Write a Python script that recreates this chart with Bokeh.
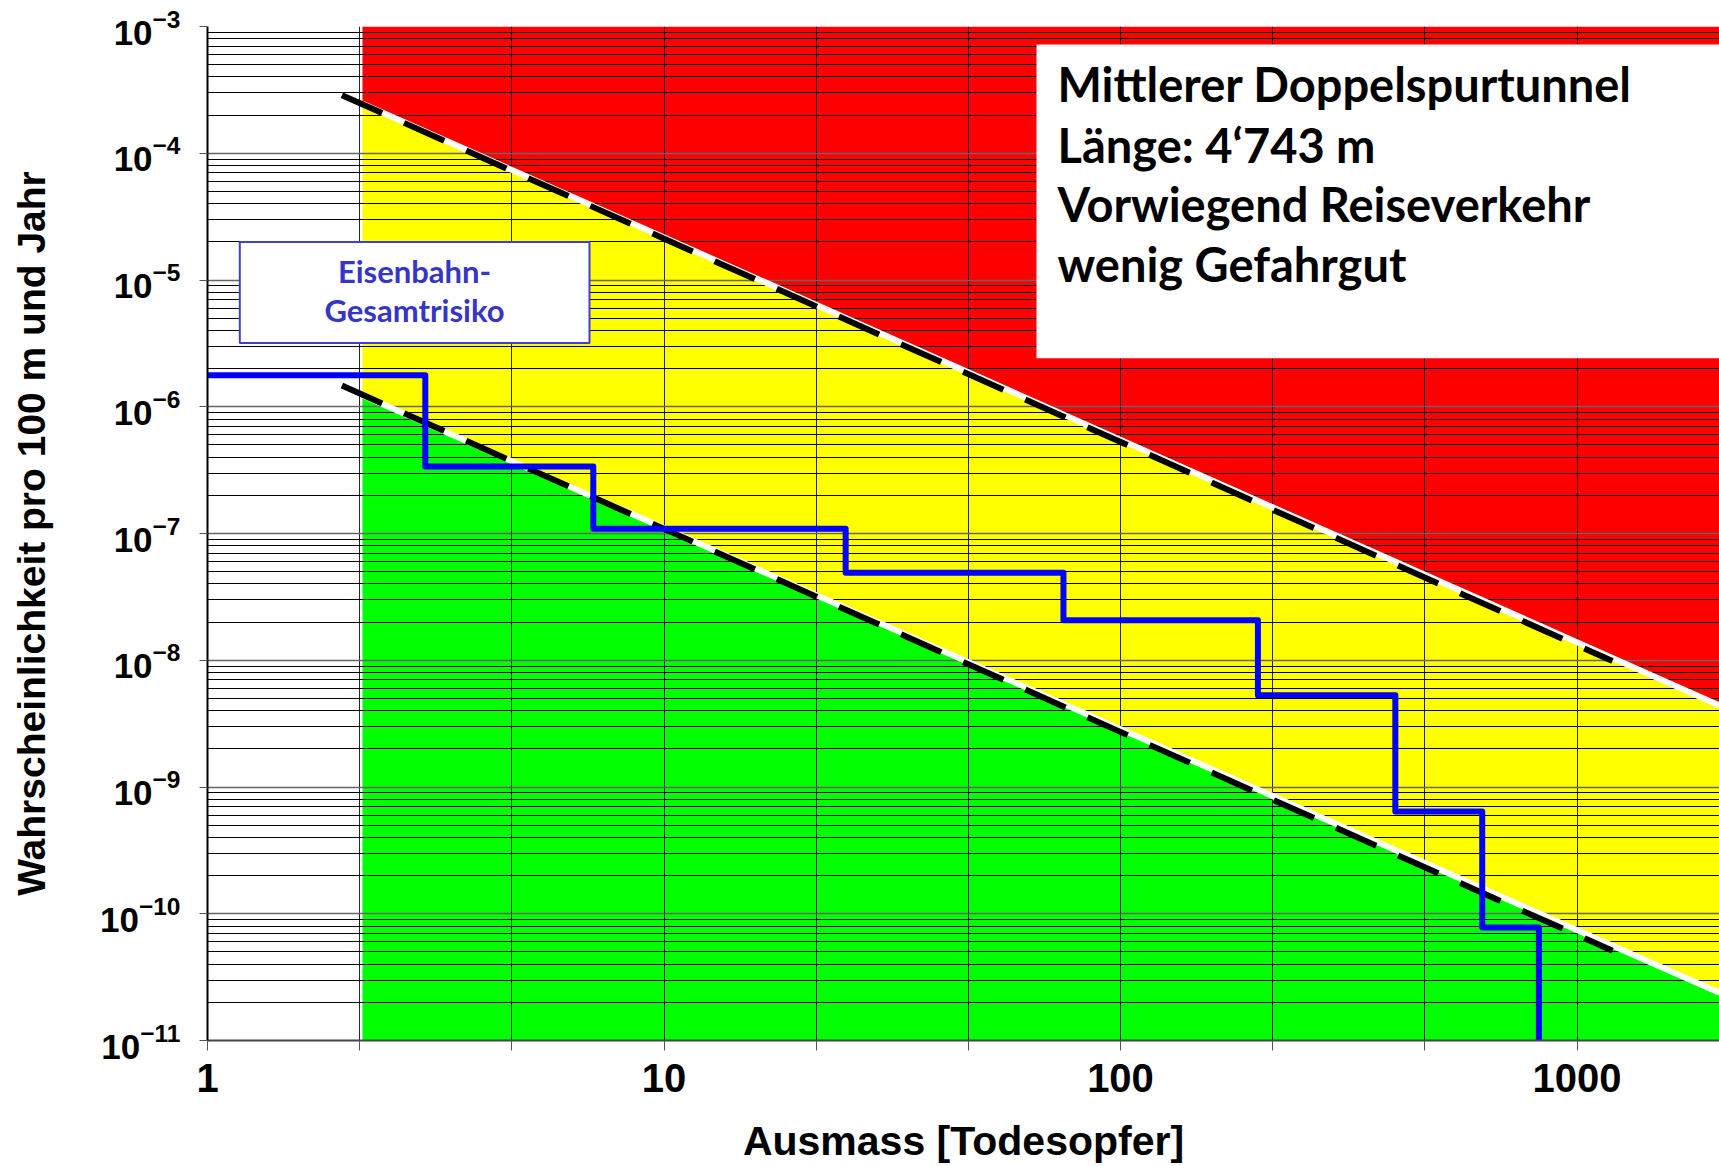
from bokeh.plotting import figure
from bokeh.models import (FixedTicker, CustomJSTickFormatter, LogTickFormatter,
                          BoxAnnotation, Label)
from bokeh.embed import file_html
from bokeh.resources import INLINE

# ---------------- data ----------------
x_ticks = [1, 10, 100, 1000]
x_tick_labels = ["1", "10", "100", "1000"]
x_grid = [1, 2.154, 4.642, 10, 21.54, 46.42, 100, 215.4, 464.2, 1000]

y_ticks = [1e-3, 1e-4, 1e-5, 1e-6, 1e-7, 1e-8, 1e-9, 1e-10, 1e-11]

# acceptability zones (boundary values at the left start and at the right edge)
zone_x = [2.185, 2052]
upper_limit = [2.46e-4, 4.4e-9]
lower_limit = [1.23e-6, 2.38e-11]

# dashed criterion lines
dash_x = [1.97, 1196]
dash_upper = [2.87e-4, 9.86e-9]
dash_lower = [1.47e-6, 5.1e-11]

# Eisenbahn-Gesamtrisiko (step curve)
risk_x = [1, 3.0, 7.0, 25, 75, 200, 400, 620, 825]
risk_y = [1.77e-6, 3.37e-7, 1.09e-7, 4.9e-8, 2.07e-8, 5.3e-9, 6.4e-10, 7.8e-11, 1e-11]

info_lines = ["Mittlerer Doppelspurtunnel", "Länge: 4‘743 m",
              "Vorwiegend Reiseverkehr", "wenig Gefahrgut"]
legend_lines = ["Eisenbahn-", "Gesamtrisiko"]

x_title = "Ausmass [Todesopfer]"
y_title = "Wahrscheinlichkeit pro 100 m und Jahr"

# ---------------- layout helpers (page pixel -> data) ----------------
X0, XD = 207.0, 456.5      # page x of N=1, px per decade
Y0, YD = 26.0, 126.84      # page y of 1e-3, px per decade


def dx(px):
    return 10 ** ((px - X0) / XD)


def dy(py):
    return 10 ** (-3 - (py - Y0) / YD)


W, H = 1719, 1166
Y_TOP, Y_BOT = y_ticks[0], y_ticks[-1]

p = figure(width=W, height=H, x_axis_type="log", y_axis_type="log",
           x_range=(1, dx(W)), y_range=(Y_BOT, Y_TOP),
           output_backend="svg", toolbar_location=None,
           min_border_left=207, min_border_right=0, min_border_top=26,
           min_border_bottom=125)
p.outline_line_color = None
p.background_fill_color = "white"
p.border_fill_color = "white"

# ---------------- zones ----------------
zx = [zone_x[0], zone_x[1], zone_x[1], zone_x[0]]
p.patch(zx, [Y_TOP, Y_TOP, upper_limit[1], upper_limit[0]],
        fill_color="#ff0000", line_color=None, level="image")
p.patch(zx, [upper_limit[0], upper_limit[1], lower_limit[1], lower_limit[0]],
        fill_color="#ffff00", line_color=None, level="image")
p.patch(zx, [lower_limit[0], lower_limit[1], Y_BOT, Y_BOT],
        fill_color="#00ff00", line_color=None, level="image")

# white boundaries + dashed criterion lines
p.line(zone_x, upper_limit, line_color="white", line_width=6)
p.line(zone_x, lower_limit, line_color="white", line_width=6)
p.line(dash_x, dash_upper, line_color="black", line_width=6, line_dash="44 24")
p.line(dash_x, dash_lower, line_color="black", line_width=6, line_dash="44 24")

# risk curve
p.step(risk_x, risk_y, mode="after", line_color="#0000ff", line_width=6,
       line_join="round")

# ---------------- axes ----------------
xa = p.xaxis[0]
xa.ticker = FixedTicker(ticks=x_ticks,
                        minor_ticks=[t for t in x_grid if t not in x_ticks])
xa.formatter = CustomJSTickFormatter(
    args=dict(xt=x_ticks, xl=x_tick_labels),
    code="const i = xt.indexOf(tick); return i >= 0 ? xl[i] : '';")
xa.major_tick_out = 10
xa.major_tick_in = 0
xa.minor_tick_out = 10
xa.minor_tick_in = 0
xa.major_tick_line_color = "#555555"
xa.minor_tick_line_color = "#555555"
xa.axis_line_color = "#444444"
xa.axis_line_width = 2
xa.major_label_text_font = "Liberation Sans"
xa.major_label_text_font_style = "bold"
xa.major_label_text_font_size = "40px"
xa.major_label_text_color = "black"
xa.major_label_standoff = 13
xa.axis_label = x_title
xa.axis_label_text_font = "Liberation Sans"
xa.axis_label_text_font_style = "bold"
xa.axis_label_text_font_size = "41px"
xa.axis_label_text_color = "black"
xa.axis_label_standoff = 23

ya = p.yaxis[0]
ya.ticker = FixedTicker(ticks=y_ticks, minor_ticks=[])
ya.formatter = LogTickFormatter(min_exponent=0)
ya.major_tick_out = 8
ya.major_tick_in = 0
ya.minor_tick_out = 0
ya.minor_tick_in = 0
ya.major_tick_line_color = "#555555"
ya.axis_line_color = "black"
ya.axis_line_width = 2
ya.major_label_text_font = "Liberation Sans"
ya.major_label_text_font_style = "bold"
ya.major_label_text_font_size = "35px"
ya.major_label_text_color = "black"
ya.major_label_standoff = 19
ya.axis_label = y_title
ya.axis_label_text_font = "Liberation Sans"
ya.axis_label_text_font_style = "bold"
ya.axis_label_text_font_size = "39px"
ya.axis_label_text_color = "black"
ya.axis_label_standoff = 44

# ---------------- grids ----------------
y_minor = [m * t for t in y_ticks[1:] for m in range(2, 10)]
gx = p.xgrid[0]
gx.ticker = FixedTicker(ticks=x_grid)
gx.grid_line_color = "black"
gx.grid_line_alpha = 0.85
gx.grid_line_width = 1
gy = p.ygrid[0]
gy.ticker = FixedTicker(ticks=y_ticks, minor_ticks=y_minor)
gy.grid_line_color = "#666666"
gy.grid_line_width = 1.5
gy.minor_grid_line_color = "black"
gy.minor_grid_line_width = 1

# ---------------- legend box ----------------
p.add_layout(BoxAnnotation(left=dx(239.3), right=dx(589), top=dy(241.7),
                           bottom=dy(342.7), fill_color="white", fill_alpha=1,
                           line_color="#4040cc", line_width=2, line_alpha=1))
for txt, base in zip(legend_lines, [270.7, 309.7]):
    p.add_layout(Label(x=dx(414), y=dy(base), text=txt, text_align="center",
                       text_baseline="alphabetic", text_font="Lato",
                       text_font_style="bold", text_font_size="31px",
                       text_color="#3535c8"))

# ---------------- info box ----------------
p.add_layout(BoxAnnotation(left=dx(1036), top=dy(44), bottom=dy(358),
                           fill_color="white", fill_alpha=1, line_color=None))
for txt, base in zip(info_lines, [83.5, 144.5, 203.5, 263.5]):
    p.add_layout(Label(x=dx(1057), y=dy(base), text=txt, text_align="left",
                       text_baseline="alphabetic", text_font="Lato",
                       text_font_style="bold", text_font_size="47px",
                       text_color="black"))

open("out.html", "w").write(file_html(p, INLINE))
